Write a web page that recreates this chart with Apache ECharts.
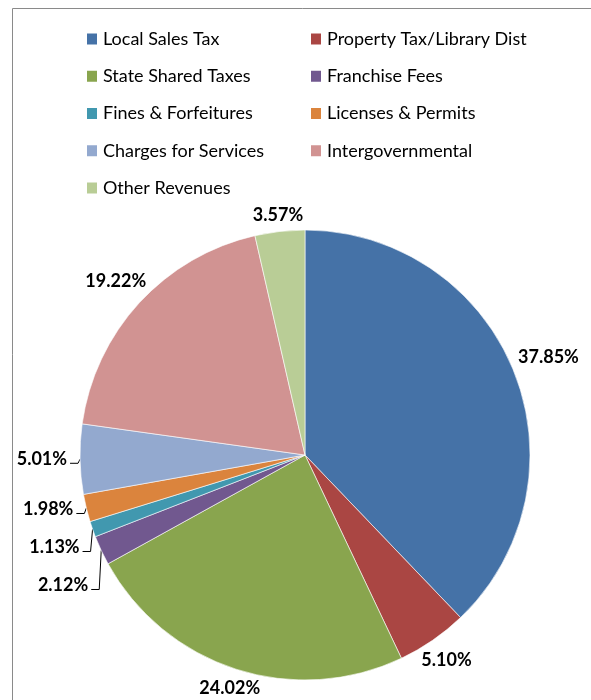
<!DOCTYPE html>
<html>
<head>
<meta charset="utf-8">
<script src="https://cdn.jsdelivr.net/npm/echarts@6/dist/echarts.min.js"></script>
<style>
  html, body { margin: 0; padding: 0; background: #fff; }
  #chart { width: 591px; height: 700px; }
</style>
</head>
<body>
<div id="chart"></div>
<script>
const categories = [
  'Local Sales Tax', 'Property Tax/Library Dist', 'State Shared Taxes', 'Franchise Fees',
  'Fines & Forfeitures', 'Licenses & Permits', 'Charges for Services', 'Intergovernmental',
  'Other Revenues'
];
const shares = [37.85, 5.10, 24.02, 2.12, 1.13, 1.98, 5.01, 19.22, 3.57];
const colors = ['#4572A7', '#AA4643', '#89A54E', '#71588F', '#4198AF', '#DB843D', '#93A9CF', '#D19392', '#B9CD96'];
// small slices get a leader line, like the original
const withLine = [false, false, false, true, true, true, true, false, false];

const pieCenter = [305, 455];

const chart = echarts.init(document.getElementById('chart'));

const legendText = { fontFamily: 'Lato', fontSize: 18, color: '#000', lineHeight: 18 };

function placeLabel(params) {
  const pts = params.labelLinePoints;
  if (!pts) return {};
  const p0 = pts[0];
  const rect = params.labelRect;
  if (withLine[params.dataIndex]) {
    // keep the shifted row, hang the label just left of the rim, elbow line like excel
    const yc = rect.y + rect.height / 2;
    const right = p0[0] - 13;
    return {
      x: right,
      y: yc,
      align: 'right',
      verticalAlign: 'middle',
      labelLinePoints: [p0, [right + 11, yc + 4], [right + 3, yc + 4]]
    };
  }
  // "outside end": centre the label just beyond the rim, along the slice's mid direction
  let ux = p0[0] - pieCenter[0], uy = p0[1] - pieCenter[1];
  const len = Math.sqrt(ux * ux + uy * uy) || 1;
  ux /= len; uy /= len;
  const w = rect.width / 2, h = 7;
  const d = 9 + Math.sqrt((ux * w) * (ux * w) + (uy * h) * (uy * h));
  return {
    x: p0[0] + ux * d,
    y: p0[1] + uy * d,
    align: 'center',
    verticalAlign: 'middle'
  };
}

chart.setOption({
  animation: false,
  color: colors,
  graphic: [{
    type: 'rect',
    shape: { x: 12.5, y: 8.5, width: 700, height: 800 },
    style: { fill: 'none', stroke: '#8a8a8a', lineWidth: 1 },
    silent: true
  }],
  legend: [
    {
      orient: 'vertical', left: 80, top: 25,
      itemWidth: 12, itemHeight: 13, itemGap: 19.25,
      icon: 'rect', textStyle: legendText,
      data: categories.filter((c, i) => i % 2 === 0)
    },
    {
      orient: 'vertical', left: 304, top: 25,
      itemWidth: 12, itemHeight: 13, itemGap: 19.25,
      icon: 'rect', textStyle: legendText,
      data: categories.filter((c, i) => i % 2 === 1)
    }
  ],
  series: [{
    type: 'pie',
    center: pieCenter,
    radius: 225,
    startAngle: 90,
    clockwise: true,
    avoidLabelOverlap: true,
    itemStyle: { borderColor: '#fff', borderWidth: 0.6 },
    label: {
      show: true,
      position: 'outside',
      overflow: 'none',
      formatter: p => p.value.toFixed(2) + '%',
      fontFamily: 'Lato',
      fontWeight: 'bold',
      fontSize: 18,
      color: '#000',
      minMargin: 20
    },
    labelLine: { length: 6, length2: 10, lineStyle: { color: '#000', width: 1 } },
    labelLayout: placeLabel,
    data: categories.map((name, i) => ({
      name,
      value: shares[i],
      labelLine: { show: withLine[i] }
    }))
  }]
});
</script>
</body>
</html>
